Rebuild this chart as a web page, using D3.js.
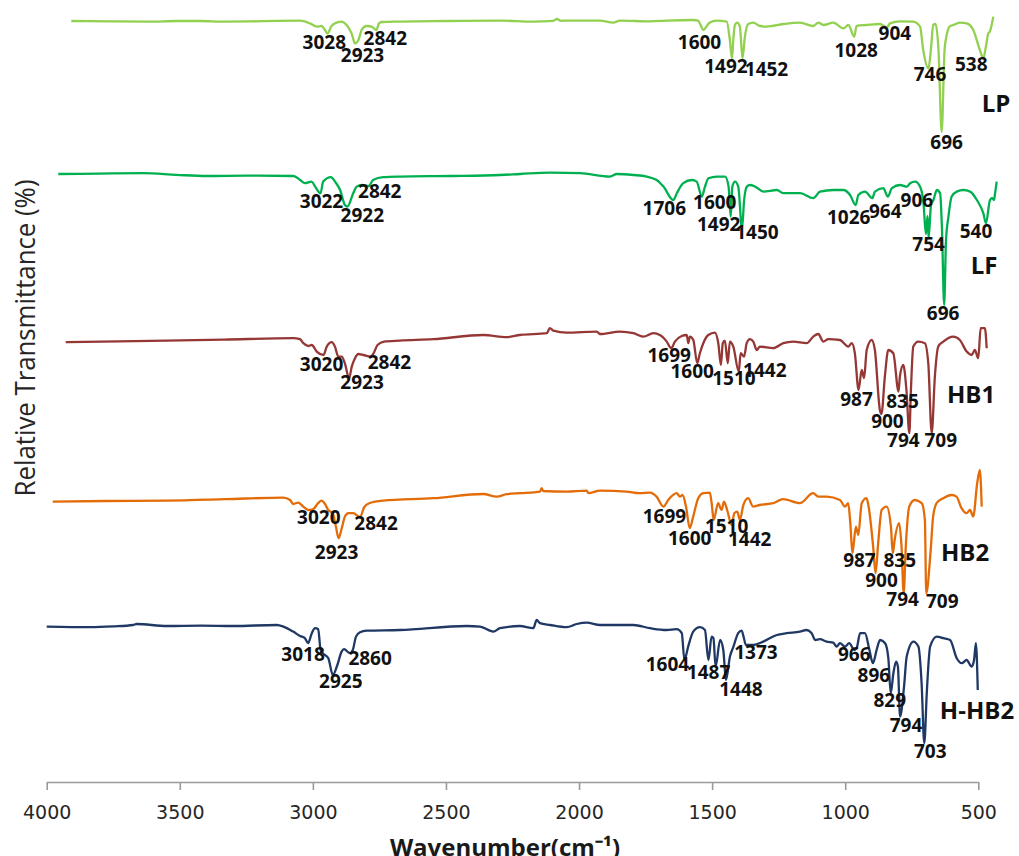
<!DOCTYPE html>
<html>
<head>
<meta charset="utf-8">
<script src="https://cdn.jsdelivr.net/npm/d3@7"></script>
<style>
  body { margin: 0; background: #ffffff; }
  svg { display: block; }
</style>
</head>
<body>
<svg id="chart" width="1019" height="856"></svg>
<script>
// ---- FTIR spectra: [wavenumber (cm-1), relative transmittance (%)] ----
const lpSpectrum = [[4000,59.5],[3850,59.3],[3701,59.2],[3600,59.5],[3511,59.5],[3420,59.2],[3322,59.3],[3220,59.6],[3132,59.7],[3094,58.3],[3068,56.7],[3050,57],[3037,55],[3028,53.3],[3012,57],[2993,58.7],[2974,59.2],[2955,57.5],[2936,53.3],[2923,48.3],[2910,50],[2898,55],[2879,57],[2860,56.7],[2842,55],[2832,58.3],[2822,59],[2752,59.2],[2562,59.5],[2373,59.7],[2247,59.2],[2170,59.6],[2157,60.5],[2140,59.6],[2119,59.7],[1993,59.7],[1943,58.7],[1917,59.7],[1803,59.3],[1740,59.7],[1640,60],[1621,59.7],[1600,55],[1585,57.5],[1576,58.7],[1550,59.7],[1512,59.2],[1500,50],[1492,40.8],[1487,50],[1481,57.5],[1472,58.7],[1462,56.7],[1452,40.8],[1443,51.7],[1430,58],[1411,58.7],[1386,57],[1360,56.7],[1297,58],[1234,58.7],[1183,57],[1164,58.7],[1145,57.5],[1107,58.7],[1069,55.8],[1050,57.5],[1028,51.7],[1019,57],[981,57.5],[930,58],[904,56.3],[892,58.3],[854,59.3],[804,59.2],[778,56.7],[766,45],[746,35.8],[737,45],[728,57.5],[719,58],[708,45],[696,4],[685,45],[677,52.5],[664,57],[652,57.5],[626,58.7],[601,58.3],[576,55],[551,45],[538,40.8],[528,46.7],[519,53.3],[513,54.2],[500,61.7]];

const lfSpectrum = [[4000,71],[3850,71.2],[3683,71.4],[3560,70.6],[3446,70],[3300,70.2],[3123,70],[3098,68],[3080,66.4],[3055,67.2],[3042,64.7],[3022,61.4],[3012,67.2],[2983,69.4],[2968,67.2],[2949,63],[2931,55.5],[2922,54.7],[2900,61.4],[2887,64.7],[2868,65.5],[2842,65],[2826,68],[2788,69.4],[2725,69.7],[2539,70],[2352,70.5],[2278,71],[2166,71.7],[2054,71.4],[1942,69.7],[1917,71],[1855,70.5],[1805,69.7],[1768,68],[1743,64.7],[1706,58],[1693,61.4],[1669,66.4],[1637,68],[1619,67.2],[1600,59.7],[1588,64.7],[1575,68.9],[1544,69.7],[1513,69.7],[1500,64.7],[1492,49.7],[1486,64.7],[1476,67.2],[1464,64.7],[1450,43.9],[1442,58],[1432,64.7],[1420,65.5],[1401,64.7],[1370,62.2],[1320,63],[1296,61.4],[1233,61.4],[1184,58.9],[1159,62.2],[1109,63],[1072,63],[1047,60.5],[1026,55.5],[1016,60.5],[991,62.2],[964,58.9],[954,62.2],[923,63.9],[906,59.7],[891,63.9],[860,65.5],[835,64.7],[823,66.4],[804,67.2],[786,64.7],[773,56.4],[764,41],[758,50],[754,39],[745,55.5],[736,58],[723,63],[711,61.4],[704,43],[696,5.5],[689,38],[680,49.7],[668,59.7],[649,62.2],[624,63],[599,62.2],[574,58],[550,51.4],[540,46.4],[525,58],[517,58.9],[510,58],[506,61.4],[500,67.2]];

const hb1Spectrum = [[4000,48.9],[3800,49.3],[3616,49.7],[3400,50.2],[3135,50.9],[3110,50.4],[3097,48.4],[3078,47],[3065,47.5],[3046,44.2],[3020,42.5],[3008,46.7],[2989,48.9],[2977,46.7],[2964,41.7],[2951,41.7],[2939,38.3],[2923,30.8],[2913,36.7],[2901,40.8],[2888,43],[2869,42.5],[2842,41.7],[2830,43.3],[2815,47.5],[2790,49.2],[2730,49.7],[2603,50.4],[2413,52.5],[2324,51.4],[2274,52.5],[2172,53.4],[2160,55.9],[2147,54.7],[2096,53.7],[1982,54.2],[1970,53],[1894,54.2],[1843,53.4],[1805,51.7],[1767,53.4],[1742,52.5],[1716,49.2],[1699,45.9],[1685,49.2],[1659,52],[1640,52.5],[1634,48.4],[1628,51.7],[1615,50],[1600,38.4],[1590,43.4],[1577,48.4],[1558,52.5],[1533,53.7],[1520,48.4],[1510,37.5],[1503,48.4],[1495,49.7],[1484,38.4],[1476,49.2],[1463,46.7],[1442,34.2],[1435,43.4],[1422,41.7],[1412,48.4],[1400,50.4],[1387,49.2],[1374,45],[1362,46.7],[1311,45.9],[1273,48.4],[1235,49.2],[1184,48.4],[1159,51.7],[1140,53],[1121,49.2],[1102,50.4],[1058,50],[1026,46.7],[1013,48.4],[1001,43.4],[987,25],[975,35],[966,30.9],[956,45],[937,50],[925,45],[906,15],[900,13],[887,31.7],[874,45],[855,43.4],[835,24.2],[830,31.7],[817,37.5],[805,25],[794,3.4],[788,25],[779,46.7],[760,49.2],[735,48.4],[722,38.4],[709,3.4],[697,31.7],[684,46.7],[665,49.2],[627,51.7],[602,50],[576,44.2],[557,42.5],[545,45],[532,40.9],[523,55.9],[507,55.9],[500,45.9]];

const hb2Spectrum = [[4000,49.2],[3800,49.5],[3571,49.7],[3350,50.4],[3131,51.2],[3106,50],[3094,48],[3075,48.7],[3056,46.7],[3037,45],[3020,45.3],[3000,48.4],[2987,49.7],[2974,48],[2962,45],[2945,43.4],[2933,36.7],[2923,30.9],[2911,35.9],[2899,41.7],[2886,43.4],[2868,43.4],[2842,41.5],[2826,46.5],[2805,48.5],[2755,49.7],[2566,50.9],[2378,53],[2327,51.7],[2290,52.9],[2240,53.4],[2164,54.2],[2158,55.9],[2152,54.5],[2064,54.2],[1988,54.7],[1982,53.4],[1938,54.7],[1838,54.2],[1788,53.4],[1750,53.7],[1725,51.7],[1699,46.7],[1681,50],[1649,53.4],[1637,51.7],[1627,52.5],[1614,46.7],[1600,35.9],[1587,41.7],[1568,50.9],[1549,53.4],[1524,53.7],[1516,46.7],[1510,40],[1493,48.4],[1480,45],[1471,49.2],[1459,45],[1442,37.5],[1432,43.4],[1421,44.2],[1411,40],[1398,47.5],[1380,50.9],[1361,46.7],[1336,47.5],[1285,48.4],[1248,50.4],[1185,48.4],[1135,53.4],[1116,51.7],[1084,51.7],[1034,50],[1015,46.7],[1003,48.4],[995,38.4],[987,23.4],[974,36.7],[965,32.5],[952,48.4],[934,50.9],[926,46.7],[909,26.7],[900,13.4],[890,28.4],[877,45],[858,46.7],[842,36.7],[835,23.4],[828,30],[811,38.4],[802,26.7],[794,3.4],[786,26.7],[773,46.7],[752,50],[726,48.4],[714,40],[709,3.4],[693,23.4],[683,41.7],[670,48.4],[645,50.9],[613,52.5],[595,51.7],[576,45.9],[557,43.4],[544,45],[532,41.7],[517,58.4],[507,65],[500,46.7]];

const hhb2Spectrum = [[4000,64.2],[3837,63.9],[3750,64.3],[3675,65],[3662,65.5],[3549,64.5],[3420,64.7],[3299,64.5],[3136,65],[3111,64.2],[3074,61.7],[3048,59.5],[3030,58.4],[3018,55.9],[3004,60.9],[2992,63.4],[2980,62.9],[2971,52.5],[2963,50.9],[2942,48.4],[2925,40],[2908,45],[2892,51.7],[2883,52.9],[2860,50.9],[2850,52.5],[2838,59.2],[2823,61.4],[2798,62.2],[2673,62.5],[2422,64.5],[2372,64.2],[2322,61.7],[2297,63.4],[2222,64.5],[2172,63.4],[2159,67.5],[2147,65.9],[2109,65],[2046,63.9],[2009,65.5],[1971,66.2],[1921,65],[1796,65],[1733,63.4],[1671,62.5],[1633,62.9],[1614,60.9],[1604,47.5],[1590,54.2],[1571,61.7],[1546,63.9],[1527,62.5],[1514,47.5],[1502,59.2],[1495,58.4],[1487,44.2],[1470,57.5],[1458,52.5],[1448,37.5],[1433,49.2],[1420,54.2],[1402,60.9],[1389,62.2],[1382,59.2],[1373,55],[1345,55],[1308,56.7],[1257,60],[1220,60.9],[1170,61.7],[1145,62.5],[1126,60.9],[1113,57.5],[1095,57.9],[1070,56.7],[1045,56.2],[1032,54.2],[1020,55.9],[1001,54.2],[985,55.9],[966,52.5],[957,53.4],[944,60.9],[926,60.9],[909,52.5],[896,45.9],[882,52.5],[869,57.5],[850,55.9],[838,48.4],[829,30.9],[819,40.9],[809,46.7],[802,44.2],[794,19.2],[779,34.2],[769,49.2],[744,56.7],[725,54.2],[713,35.9],[703,5.9],[693,32.5],[681,54.2],[656,59.2],[631,58.4],[606,57.5],[581,48.4],[562,45.9],[544,47.5],[525,44.2],[516,47.5],[509,55.9],[502,32.5]];

// ---- assigned bands (cm-1) ----
const lpPeaks   = [3028, 2923, 2842, 1600, 1492, 1452, 1028, 904, 746, 538, 696];
const lfPeaks   = [3022, 2922, 2842, 1706, 1600, 1492, 1450, 1026, 964, 906, 754, 540, 696];
const hb1Peaks  = [3020, 2923, 2842, 1699, 1600, 1510, 1442, 987, 835, 900, 794, 709];
const hb2Peaks  = [3020, 2923, 2842, 1699, 1600, 1510, 1442, 987, 835, 900, 794, 709];
const hhb2Peaks = [3018, 2925, 2860, 1604, 1487, 1448, 1373, 966, 896, 829, 794, 703];

const sampleNames = ["LP", "LF", "HB1", "HB2", "H-HB2"];
const xTickValues = [4000, 3500, 3000, 2500, 2000, 1500, 1000, 500];

// ---- layout ----
const W = 1019, H = 856;
const axisRange = [46.7, 978.3];
const axisY = 782;
const bandHeight = 200;             // pixels spanned by 0-100 %
const panels = [
  { data: lpSpectrum,   peaks: lpPeaks,   color: "#92D050", range: [71.3, 993.3], bottom: 140, name: [2.7, -37],
    offsets: [[-3,9],[7.5,12],[9,8],[-4,12],[-6,8],[24,11],[2,13],[8,6],[1.5,6],[-12,6],[5,10]] },
  { data: lfSpectrum,   peaks: lfPeaks,   color: "#00B050", range: [58.3, 996.7], bottom: 316, name: [-12.7, -51],
    offsets: [[1,8],[15,8],[11,5],[-9,8],[13,5],[-12,7],[15,4],[-7,12],[13,13],[29,3],[0,6],[-10,8],[-1,7.5]] },
  { data: hb1Spectrum,  peaks: hb1Peaks,  color: "#953735", range: [65.7, 986.7], bottom: 440, name: [-15.7, -46],
    offsets: [[-2,9],[13,4],[19,5],[-2,7],[-5,8],[13,13],[26,-2],[-2,9],[4,9],[6,7],[-6,7],[9,7]] },
  { data: hb2Spectrum,  peaks: hb2Peaks,  color: "#E36C09", range: [52.7, 981.7], bottom: 600, name: [-16.7, -48],
    offsets: [[6,8],[-2,14],[16,6],[1,9],[0,10],[13,6],[18,14],[7,7],[7,7],[6,7],[-1,6],[16,8]] },
  { data: hhb2Spectrum, peaks: hhb2Peaks, color: "#1F3864", range: [46.7, 978.3], bottom: 755, name: [-1.3, -45],
    offsets: [[-5,11],[8,6],[20,5],[-17,4],[-7,5],[15,9],[10,7],[0,4],[1,12],[-1,7],[6,8],[6,8]] }
];

const svg = d3.select("#chart");
svg.append("rect").attr("width", W).attr("height", H).attr("fill", "#ffffff");

// shared wavenumber axis
const x = d3.scaleLinear().domain([4000, 500]).range(axisRange);
const xAxis = d3.axisBottom(x)
  .tickValues(xTickValues)
  .tickFormat(d3.format("d"))
  .tickSize(8)
  .tickSizeOuter(0)
  .tickPadding(16);

const gx = svg.append("g").attr("transform", `translate(0,${axisY})`).call(xAxis);
gx.select(".domain").attr("stroke", "#9a9a9a").attr("stroke-width", 1.6);
gx.selectAll(".tick line").attr("stroke", "#9a9a9a").attr("stroke-width", 1.6);
gx.selectAll(".tick text")
  .attr("font-family", "'DejaVu Sans', sans-serif")
  .attr("font-size", 19)
  .attr("fill", "#262626");

// spectra
const line = d3.line().curve(d3.curveMonotoneX);
const labelFont = "'Open Sans', sans-serif";

panels.forEach((p, i) => {
  const xs = d3.scaleLinear().domain([4000, 500]).range(p.range);
  const ys = d3.scaleLinear().domain([0, 100]).range([p.bottom, p.bottom - bandHeight]);
  const g = svg.append("g");

  g.append("path")
    .attr("d", line.x(d => xs(d[0])).y(d => ys(d[1]))(p.data))
    .attr("fill", "none")
    .attr("stroke", p.color)
    .attr("stroke-width", 2.3)
    .attr("stroke-linejoin", "round");

  const lookup = new Map(p.data.map(d => [d[0], d[1]]));
  p.peaks.forEach((wn, k) => {
    const t = lookup.get(wn);
    const [dx, dy] = p.offsets[k];
    g.append("text")
      .attr("x", xs(wn) + dx)
      .attr("y", ys(t) + dy + 7)
      .attr("text-anchor", "middle")
      .attr("font-family", labelFont)
      .attr("font-weight", 700)
      .attr("font-size", 19)
      .attr("fill", "#111")
      .text(wn);
  });

  g.append("text")
    .attr("x", xs(500) + p.name[0])
    .attr("y", ys(0) + p.name[1] + 9)
    .attr("text-anchor", "middle")
    .attr("font-family", labelFont)
    .attr("font-weight", 700)
    .attr("font-size", 24)
    .attr("fill", "#111")
    .text(sampleNames[i]);
});

// axis titles
svg.append("text")
  .attr("x", 505)
  .attr("y", 856)
  .attr("text-anchor", "middle")
  .attr("font-family", labelFont)
  .attr("font-weight", 700)
  .attr("font-size", 24)
  .attr("fill", "#1a1a1a")
  .text("Wavenumber(cm\u207B\u00B9)");

svg.append("text")
  .attr("transform", "translate(35,338) rotate(-90)")
  .attr("text-anchor", "middle")
  .attr("font-family", labelFont)
  .attr("font-size", 27)
  .attr("textLength", 317)
  .attr("lengthAdjust", "spacingAndGlyphs")
  .attr("fill", "#262626")
  .text("Relative Transmittance (%)");
</script>
</body>
</html>
